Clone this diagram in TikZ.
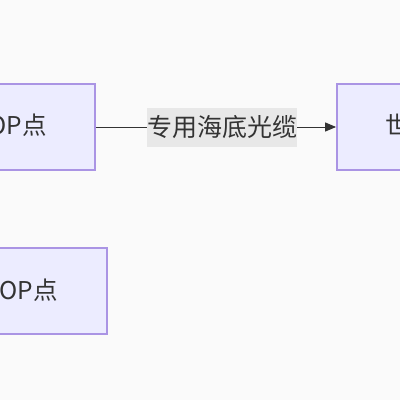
\documentclass[tikz,border=0pt]{standalone}
\usepackage{fontspec}
\setmainfont{Noto Sans CJK SC}
\usetikzlibrary{arrows.meta}
\definecolor{bgc}{RGB}{250,250,250}
\definecolor{nodefill}{RGB}{236,236,255}
\definecolor{nodeline}{RGB}{170,148,228}
\definecolor{txt}{RGB}{51,51,51}
\definecolor{lblbg}{RGB}{232,232,232}
\tikzset{
  box/.style={draw=nodeline, fill=nodefill, line width=1.8pt, inner sep=0pt},
  boxtext/.style={text=txt, inner sep=0pt, font=\fontsize{24.5}{26}\selectfont},
  edgelabel/.style={fill=lblbg, text=txt, inner sep=0pt, minimum height=39pt, font=\fontsize{25}{27}\selectfont},
  conn/.style={draw=txt, line width=1pt, -{Triangle[length=11pt,width=9pt]}}
}
\begin{document}
\begin{tikzpicture}[x=1pt,y=-1pt]
\useasboundingbox[fill=bgc] (0,0) rectangle (400,400);
\node[box, minimum width=155pt, minimum height=86pt] (A) at (17.5,127) {};
\node[boxtext, anchor=east] (At) at (47,125) {POP点};
\node[box, minimum width=155pt, minimum height=86pt] (C) at (414.5,127) {};
\node[boxtext, anchor=west] (Ct) at (385,125) {世界};
\node[box, minimum width=155pt, minimum height=86pt] (B) at (29.5,291) {};
\node[boxtext, anchor=east] (Bt) at (58,290) {POP点};
\draw[conn] (A.east) -- node[edgelabel, pos=0.527] (L) {专用海底光缆} (C.west);
\end{tikzpicture}
\end{document}
